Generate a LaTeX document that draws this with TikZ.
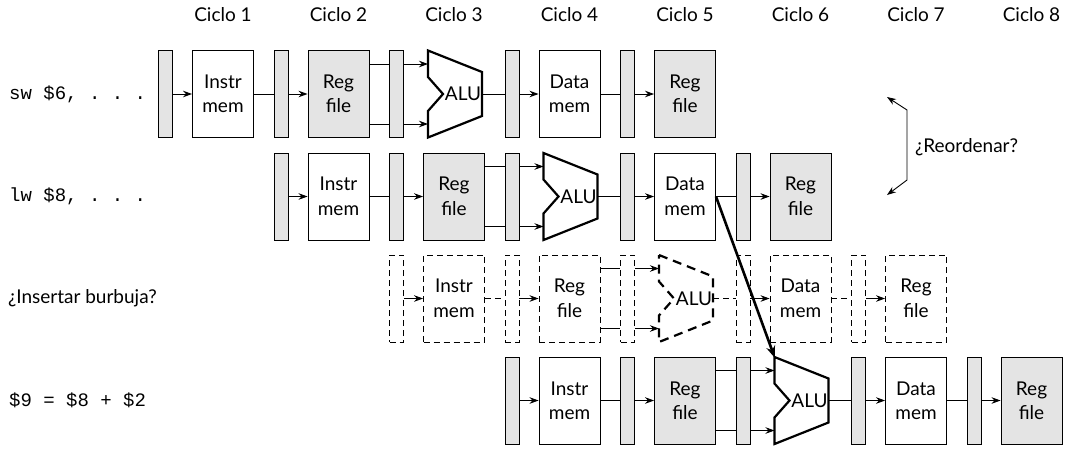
\documentclass[tikz,border=0pt]{standalone}
\usepackage{fontspec}
\setmainfont{Lato}
\newfontfamily\codefont{Liberation Mono}
\usetikzlibrary{arrows.meta}
\definecolor{unitgray}{RGB}{228,228,228}
\newcommand\lblfont{\fontsize{19}{24.5}\selectfont}
\newcommand\codesize{\fontsize{19}{22}\selectfont}
\tikzset{
  tip/.style={-{Stealth[length=9pt,width=6.5pt]}},
  solidlatch/.style={draw, line width=0.9pt, fill=unitgray, minimum width=14pt, minimum height=87pt, inner sep=0pt},
  solidbox/.style={draw, line width=0.9pt, fill=white, minimum width=61pt, minimum height=87pt, inner sep=0pt, align=center, font=\lblfont},
  solidrf/.style={solidbox, fill=unitgray},
  solidalu/.style={draw, line width=2.2pt, line join=miter, fill=white},
  solidout/.style={line width=0.9pt},
  solidin/.style={line width=0.9pt, tip},
  ghostdash/.style={dash pattern=on 6pt off 4pt},
  ghostlatch/.style={draw, line width=0.9pt, ghostdash, minimum width=14pt, minimum height=87pt, inner sep=0pt},
  ghostbox/.style={draw, line width=0.9pt, ghostdash, minimum width=61pt, minimum height=87pt, inner sep=0pt, align=center, font=\lblfont},
  ghostrf/.style={ghostbox},
  ghostalu/.style={draw, line width=2.2pt, dash pattern=on 9pt off 6pt},
  ghostout/.style={line width=0.9pt, ghostdash},
  ghostout2/.style={line width=0.9pt},
  solidout2/.style={line width=0.9pt},
  ghostin/.style={line width=0.9pt, tip},
  alutext/.style={font=\lblfont, inner sep=0pt},
  cyclelbl/.style={font=\lblfont, inner sep=0pt},
  rowlbl/.style={anchor=west, inner sep=0pt},
}
% #1 row id, #2 mid y, #3 start cycle, #4 style prefix (solid/ghost)
\newcommand\piperow[4]{%
  \pgfmathsetmacro\cxA{223+115.5*(#3-1)}%
  \pgfmathsetmacro\cxB{\cxA+115.5}%
  \pgfmathsetmacro\cxC{\cxA+231}%
  \pgfmathsetmacro\cxD{\cxA+346.5}%
  \pgfmathsetmacro\cxE{\cxA+462}%
  \node[#4latch] (#1l0) at (\cxA-57.5,#2) {};
  \node[#4box] (#1im) at (\cxA,#2) {Instr\\mem};
  \node[#4latch] (#1l1) at (\cxB-57.5,#2) {};
  \node[#4rf] (#1rf) at (\cxB,#2) {Reg\\file};
  \node[#4latch] (#1l2) at (\cxC-57.5,#2) {};
  \draw[#4alu] (\cxC-26,#2-43.5) -- (\cxC+28,#2-22) -- (\cxC+28,#2+22) -- (\cxC-26,#2+43.5)
     -- (\cxC-26,#2+17) -- (\cxC-11,#2) -- (\cxC-26,#2-17) -- cycle;
  \node[alutext] (#1alu) at (\cxC+9,#2) {ALU};
  \coordinate (#1aluA) at (\cxC-26,#2-30);
  \coordinate (#1aluB) at (\cxC-26,#2+30);
  \coordinate (#1aluO) at (\cxC+28,#2);
  \coordinate (#1aluT) at (\cxC-26,#2-43.5);
  \node[#4latch] (#1l3) at (\cxD-57.5,#2) {};
  \node[#4box] (#1dm) at (\cxD,#2) {Data\\mem};
  \node[#4latch] (#1l4) at (\cxE-57.5,#2) {};
  \node[#4rf] (#1wb) at (\cxE,#2) {Reg\\file};
  \draw[#4in] (#1l0.east) -- (#1im.west);
  \draw[#4out] (#1im.east) -- (#1l1.west);
  \draw[#4in] (#1l1.east) -- (#1rf.west);
  \draw[#4out2] (#1rf.east |- #1aluA) -- (#1l2.west |- #1aluA);
  \draw[#4out2] (#1rf.east |- #1aluB) -- (#1l2.west |- #1aluB);
  \draw[#4in] (#1l2.east |- #1aluA) -- (#1aluA);
  \draw[#4in] (#1l2.east |- #1aluB) -- (#1aluB);
  \draw[#4out] (#1aluO) -- (#1l3.west);
  \draw[#4in] (#1l3.east) -- (#1dm.west);
  \draw[#4out] (#1dm.east) -- (#1l4.west);
  \draw[#4in] (#1l4.east) -- (#1wb.west);
}
\begin{document}
\begin{tikzpicture}[x=1pt,y=-1pt]
\useasboundingbox (0,0) rectangle (1073,448);
% cycle labels
\foreach \k in {1,...,8} {
  \pgfmathsetmacro\cx{223+115.5*(\k-1)}
  \node[cyclelbl] (cyc\k) at (\cx,15) {Ciclo \k};
}
% rows
\piperow{ra}{94}{1}{solid}
\piperow{rb}{196.5}{2}{solid}
\piperow{rc}{298.5}{3}{ghost}
\piperow{rd}{400.5}{4}{solid}
% row labels
\node[rowlbl, font=\codefont\codesize] (lblA) at (9,94) {sw \$6, .\ .\ .};
\node[rowlbl, font=\codefont\codesize] (lblB) at (9,196.5) {lw \$8, .\ .\ .};
\node[rowlbl, font=\lblfont] (lblC) at (8,298.5) {¿Insertar burbuja?};
\node[rowlbl, font=\codefont\codesize] (lblD) at (9,400.5) {\$9 = \$8 + \$2};
% forwarding arrow
\draw[line width=2.6pt, -{Stealth[length=12pt,width=9pt]}, shorten >=-1pt] (rbdm.east) -- (rdaluT);
% reorder arrow
\coordinate (reoTop) at (887,97);
\coordinate (reoA) at (907,110);
\coordinate (reoB) at (907,180);
\coordinate (reoBot) at (887,195);
\draw[line width=0.9pt, {Stealth[length=9pt,width=6.5pt]}-{Stealth[length=9pt,width=6.5pt]}] (reoTop) -- (reoA) -- (reoB) -- (reoBot);
\node[anchor=west, font=\lblfont, inner sep=0pt] (reo) at (915,147) {¿Reordenar?};
\end{tikzpicture}
\end{document}
